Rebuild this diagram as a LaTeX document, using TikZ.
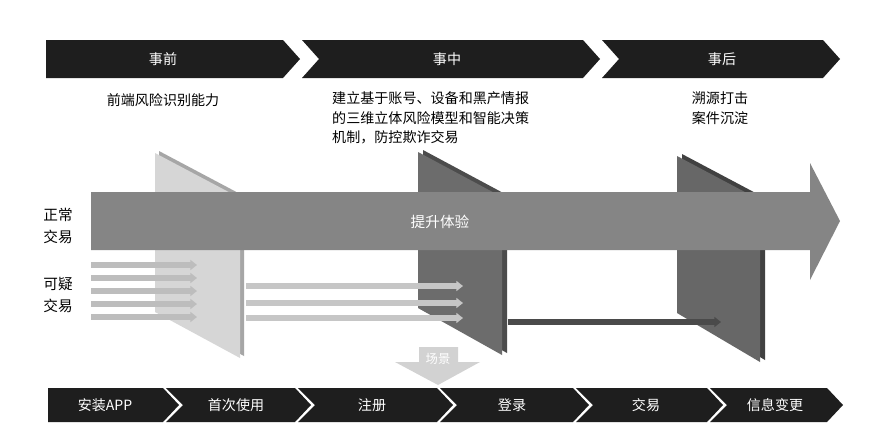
\documentclass[tikz,border=0pt]{standalone}
\usepackage{fontspec}
\newfontfamily\cjk{Noto Sans CJK SC}
\usetikzlibrary{arrows.meta}

\definecolor{bannerblack}{HTML}{1E1E1E}
\definecolor{flowgray}{HTML}{858585}
\definecolor{lightface}{HTML}{D6D6D6}
\definecolor{lightside}{HTML}{A6A6A6}
\definecolor{darkface}{HTML}{6C6C6C}
\definecolor{darkside}{HTML}{4C4C4C}
\definecolor{lineA}{HTML}{BDBDBD}
\definecolor{lineB}{HTML}{C6C6C6}
\definecolor{lineC}{HTML}{4A4A4A}
\definecolor{scenegray}{HTML}{D2D2D2}

\begin{document}
\begin{tikzpicture}[
  x=0.03cm, y=-0.03cm,
  font=\cjk\fontsize{12}{17}\selectfont,
  banner/.style={fill=bannerblack},
  bannertext/.style={text=white, inner sep=0pt, font=\cjk\fontsize{12}{14}\selectfont},
  note/.style={align=left, inner sep=0pt},
  sidelabel/.style={align=center, inner sep=0pt, font=\cjk\fontsize{12.5}{18}\selectfont},
  flowarr/.style={line width=0.16cm, -{Triangle[length=0.2cm,width=0.3cm]}}
]
  \useasboundingbox[fill=white] (0,0) rectangle (889,439);

  % plates
  \fill[lightside] (159,151) -- (244,196) -- (244,356) -- (159,310) -- cycle;
  \fill[lightface] (155,153) -- (240,198) -- (240,358) -- (155,312) -- cycle;
  \fill[darkside] (423,150) -- (507,195) -- (507,353) -- (423,306) -- cycle;
  \fill[darkface] (418,152) -- (502,197) -- (502,355) -- (418,308) -- cycle;
  \fill[darkside!85!black] (682,154) -- (765,198) -- (765,360) -- (682,311) -- cycle;
  \fill[darkface!95!black] (677,156) -- (760,200) -- (760,362) -- (677,313) -- cycle;

  % suspicious flows
  \foreach \y [count=\i] in {265,278,291,304,317} {
    \coordinate (inA\i) at (91,\y);
    \coordinate (outA\i) at (197,\y);
    \draw[flowarr, lineA] (inA\i) -- (outA\i);
  }
  \foreach \y [count=\i] in {286,303,318} {
    \coordinate (inB\i) at (246,\y);
    \coordinate (outB\i) at (463,\y);
    \draw[flowarr, lineB] (inB\i) -- (outB\i);
  }
  \coordinate (inC) at (508,322);
  \coordinate (outC) at (721,322);
  \draw[flowarr, lineC] (inC) -- (outC);

  % main flow
  \fill[flowgray] (91,192) -- (810,192) -- (810,163) -- (840,221)
    -- (810,280) -- (810,250) -- (91,250) -- cycle;
  \node[text=white, inner sep=0pt, font=\cjk\fontsize{12.5}{14}\selectfont] (boost) at (440,222) {提升体验};

  % scene arrow
  \fill[scenegray] (419,347) -- (458,347) -- (458,362) -- (480,362)
    -- (438,385) -- (395,362) -- (419,362) -- cycle;
  \node[text=white, inner sep=0pt, font=\cjk\fontsize{10.5}{12}\selectfont] (scene) at (438,359) {场景};

  % phase banner
  \foreach \l/\r/\d/\tx/\name [count=\i] in {46/283/0/163/事前, 302/583/17/447/事中, 602/823/17/722/事后} {
    \fill[banner] (\l,40) -- (\r,40) -- ({\r+17},59) -- (\r,78) -- (\l,78) -- ({\l+\d},59) -- cycle;
    \node[bannertext] (phase\i) at (\tx,59) {\name};
  }

  \node[note] (beforeText) at (163,100) {前端风险识别能力};
  \node[note, anchor=north west] (duringText) at (332,91)
    {建立基于账号、设备和黑产情报\\的三维立体风险模型和智能决策\\机制，防控欺诈交易};
  \node[note, align=center] (afterText) at (720,108) {溯源打击\\案件沉淀};

  \node[sidelabel] (normal) at (58,226) {正常\\交易};
  \node[sidelabel] (suspect) at (58,295) {可疑\\交易};

  % stage banner
  \foreach \l/\r/\d/\tx/\name [count=\i] in {48/163/0/105/安装APP, 166/295/17/236/首次使用,
      298/437/17/372/注册, 440/573/17/512/登录, 576/707/17/646/交易, 710/827/17/775/信息变更} {
    \fill[banner] (\l,388) -- (\r,388) -- ({\r+16},405) -- (\r,422) -- (\l,422) -- ({\l+\d},405) -- cycle;
    \node[bannertext] (stage\i) at (\tx,405) {\name};
  }
\end{tikzpicture}
\end{document}
